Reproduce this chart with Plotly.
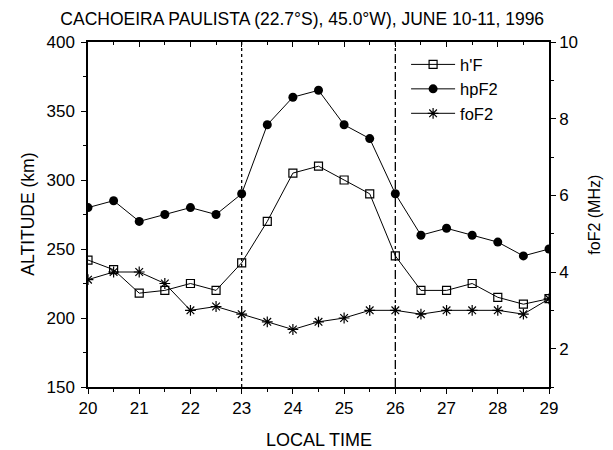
import plotly.graph_objects as go

local_time = [20, 20.5, 21, 21.5, 22, 22.5, 23, 23.5, 24, 24.5, 25, 25.5, 26, 26.5, 27, 27.5, 28, 28.5, 29]
h_prime_F = [242, 235, 218, 220, 225, 220, 240, 270, 305, 310, 300, 290, 245, 220, 220, 225, 215, 210, 214]
hpF2 = [280, 285, 270, 275, 280, 275, 290, 340, 360, 365, 340, 330, 290, 260, 265, 260, 255, 245, 250]
foF2 = [3.8, 4.0, 4.0, 3.7, 3.0, 3.1, 2.9, 2.7, 2.5, 2.7, 2.8, 3.0, 3.0, 2.9, 3.0, 3.0, 3.0, 2.9, 3.3]
event_times = [23, 26]

FONT = "Liberation Sans, Arial, sans-serif"

fig = go.Figure()
fig.add_trace(go.Scatter(x=local_time, y=h_prime_F, name="h'F", mode="lines+markers",
                         line=dict(color="black", width=1),
                         marker=dict(symbol="square-open", size=8, color="black", line=dict(width=1.2))))
fig.add_trace(go.Scatter(x=local_time, y=hpF2, name="hpF2", mode="lines+markers",
                         line=dict(color="black", width=1),
                         marker=dict(symbol="circle", size=9, color="black")))
fig.add_trace(go.Scatter(x=local_time, y=foF2, name="foF2", mode="lines+markers", yaxis="y2",
                         line=dict(color="black", width=1),
                         marker=dict(symbol="asterisk-open", size=9, color="black", line=dict(width=1.2, color="black"))))
# invisible trace so the top (mirror) axis is drawn
fig.add_trace(go.Scatter(x=[local_time[0]], y=[hpF2[0]], xaxis="x2", mode="markers",
                         marker=dict(opacity=0), showlegend=False, hoverinfo="skip"))

fig.add_vline(x=event_times[0], line=dict(color="black", width=1.3, dash="dot"))
fig.add_vline(x=event_times[1], line=dict(color="black", width=1.3, dash="dashdot"))

axis_common = dict(showgrid=False, zeroline=False, showline=True, linecolor="black", linewidth=1.5,
                   tickcolor="black", tickfont=dict(family=FONT, size=17, color="black"),
                   automargin=False)

fig.update_layout(
    width=613, height=450,
    margin=dict(l=80, r=72, t=34, b=71),
    paper_bgcolor="white", plot_bgcolor="white",
    font=dict(family=FONT, color="black"),
    title=dict(text="CACHOEIRA PAULISTA (22.7°S), 45.0°W), JUNE 10-11, 1996",
               x=0.48, xanchor="center", y=0.976, yanchor="middle",
               font=dict(family=FONT, size=17.5, color="black")),
    xaxis=dict(range=[20, 29], dtick=1, ticks="outside", ticklen=5, tickwidth=1.2,
               minor=dict(dtick=0.5, ticks="outside", ticklen=3, tickcolor="black"),
               **axis_common),
    xaxis2=dict(range=[20, 29], dtick=1, overlaying="x", side="top", anchor="y",
                ticks="inside", ticklen=5, tickwidth=1.2, showticklabels=False,
                minor=dict(dtick=0.5, ticks="inside", ticklen=3, tickcolor="black"),
                **axis_common),
    yaxis=dict(range=[150, 400], dtick=50, ticks="outside", ticklen=5, tickwidth=1.2,
               minor=dict(dtick=25, ticks="outside", ticklen=3, tickcolor="black"),
               ticklabelstandoff=3,
               **axis_common),
    yaxis2=dict(range=[1, 10], dtick=2, overlaying="y", side="right", anchor="x",
                ticks="outside", ticklen=5, tickwidth=1.2,
                minor=dict(dtick=1, ticks="outside", ticklen=3, tickcolor="black"),
                **axis_common),
    legend=dict(x=0.69, y=0.985, xanchor="left", yanchor="top", bgcolor="rgba(0,0,0,0)",
                font=dict(family=FONT, size=16.5, color="black"), tracegroupgap=4,
                itemwidth=44),
    showlegend=True,
    annotations=[
        dict(text="LOCAL TIME", xref="paper", yref="paper", x=0.5, y=-0.154,
             xanchor="center", yanchor="middle", showarrow=False,
             font=dict(family=FONT, size=18, color="black")),
        dict(text="ALTITUDE (km)", xref="paper", yref="paper", x=-0.132, y=0.5,
             xanchor="center", yanchor="middle", showarrow=False, textangle=-90,
             font=dict(family=FONT, size=17.5, color="black")),
        dict(text="foF2 (MHz)", xref="paper", yref="paper", x=1.098, y=0.5,
             xanchor="center", yanchor="middle", showarrow=False, textangle=-90,
             font=dict(family=FONT, size=16, color="black")),
    ],
)

fig.write_html("out.html")
